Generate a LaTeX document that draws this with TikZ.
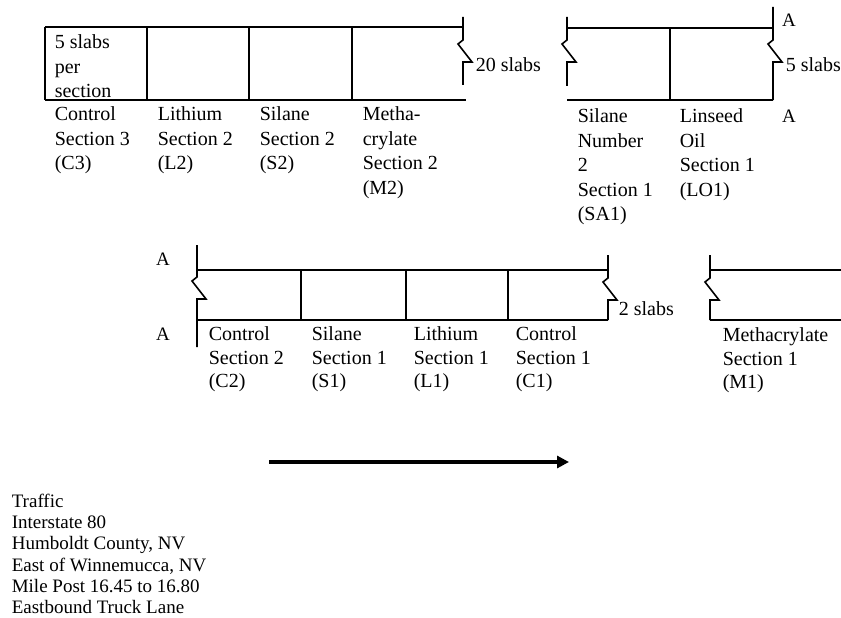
\documentclass[tikz,border=0pt]{standalone}
\usepackage{fontspec}
\setmainfont{Liberation Serif}
\usepackage{tikz}
\usetikzlibrary{calc,positioning,arrows.meta}

% break symbol: x, top, start of zig, bottom
\newcommand{\slabcut}[4]{\draw (#1,#2) -- (#1,#3) -- ++(-5,4) -- ++(14,18) -- ++(-9,0) -- (#1,#4);}

\tikzset{
  lbl/.style={anchor=north west, inner sep=0pt, align=left, font=\fontsize{20}{24.5}\selectfont},
  tag/.style={anchor=base west, inner sep=0pt, font=\fontsize{20}{24.5}\selectfont},
  endmark/.style={anchor=base, inner sep=0pt, font=\fontsize{19}{22}\selectfont},
  note/.style={anchor=north west, inner sep=0pt, align=left, font=\fontsize{19}{21.3}\selectfont}
}

\begin{document}
\begin{tikzpicture}[x=1pt,y=-1pt,line width=1.6pt]
				 %\draw[color=gray,step=10, help lines,opacity=0.3] (0,0) grid (841,618); %help grids
				 \useasboundingbox (0,0) rectangle (841,618);
				 % top row, first part
				 \draw (45,27)--(463,27);
				 \draw (45,100)--(466,100);
				 \draw (45,27)--(45,100);
				 \draw (147,27)--(147,100);
				 \draw (249,27)--(249,100);
				 \draw (352,27)--(352,100);
				 \slabcut{463}{17}{40}{85}
				 % top row, second part
				 \draw (567,28)--(773,28);
				 \draw (567,100)--(773,100);
				 \draw (670,28)--(670,100);
				 \slabcut{567}{17}{40}{86}
				 \slabcut{773}{7}{40}{100}
				 % middle row
				 \draw (197,270)--(608,270);
				 \draw (197,320)--(608,320);
				 \draw (301,270)--(301,320);
				 \draw (406,270)--(406,320);
				 \draw (508,270)--(508,320);
				 \slabcut{197}{245}{277}{347}
				 \slabcut{608}{255}{278}{320}
				 \draw (710,270)--(841,270);
				 \draw (710,320)--(841,320);
				 \slabcut{710}{255}{278}{320}
				 % labels
				 \node[lbl] (per) at (54,34) {5 slabs\\per\\section};
				 \node[lbl] (C3) at (54,106) {Control\\Section 3\\(C3)};
				 \node[lbl] (L2) at (157,106) {Lithium\\Section 2\\(L2)};
				 \node[lbl] (S2) at (259,106) {Silane\\Section 2\\(S2)};
				 \node[lbl] (M2) at (362,106) {Metha-\\crylate\\Section 2\\(M2)};
				 \node[lbl] (SA1) at (577,108) {Silane\\Number\\2\\Section 1\\(SA1)};
				 \node[lbl] (LO1) at (679,108) {Linseed\\Oil\\Section 1\\(LO1)};
				 \node[lbl,font=\fontsize{20}{23.5}\selectfont] (C2) at (208,326) {Control\\Section 2\\(C2)};
				 \node[lbl,font=\fontsize{20}{23.5}\selectfont] (S1) at (311,326) {Silane\\Section 1\\(S1)};
				 \node[lbl,font=\fontsize{20}{23.5}\selectfont] (L1) at (413,326) {Lithium\\Section 1\\(L1)};
				 \node[lbl,font=\fontsize{20}{23.5}\selectfont] (C1) at (515,326) {Control\\Section 1\\(C1)};
				 \node[lbl,font=\fontsize{20}{23.5}\selectfont] (M1) at (722,327) {Methacrylate\\Section 1\\(M1)};
				 \node[tag] (twenty) at (475,72) {20 slabs};
				 \node[tag] (five) at (785,72) {5 slabs};
				 \node[tag] (two) at (618,315) {2 slabs};
				 \node[endmark] (A1) at (789,27) {A};
				 \node[endmark] (A2) at (789,122) {A};
				 \node[endmark] (A3) at (163,265) {A};
				 \node[endmark] (A4) at (163,340) {A};
				 % traffic
				 \coordinate (tstart) at (269,462);
				 \coordinate (tend) at (569,462);
				 \draw[line width=3.2pt,-{Triangle[length=12pt,width=12pt]}] (tstart)--(tend);
				 \node[note] (traffic) at (11,493) {Traffic\\Interstate 80\\Humboldt County, NV\\East of Winnemucca, NV\\Mile Post 16.45 to 16.80\\Eastbound Truck Lane};
\end{tikzpicture}
\end{document}
